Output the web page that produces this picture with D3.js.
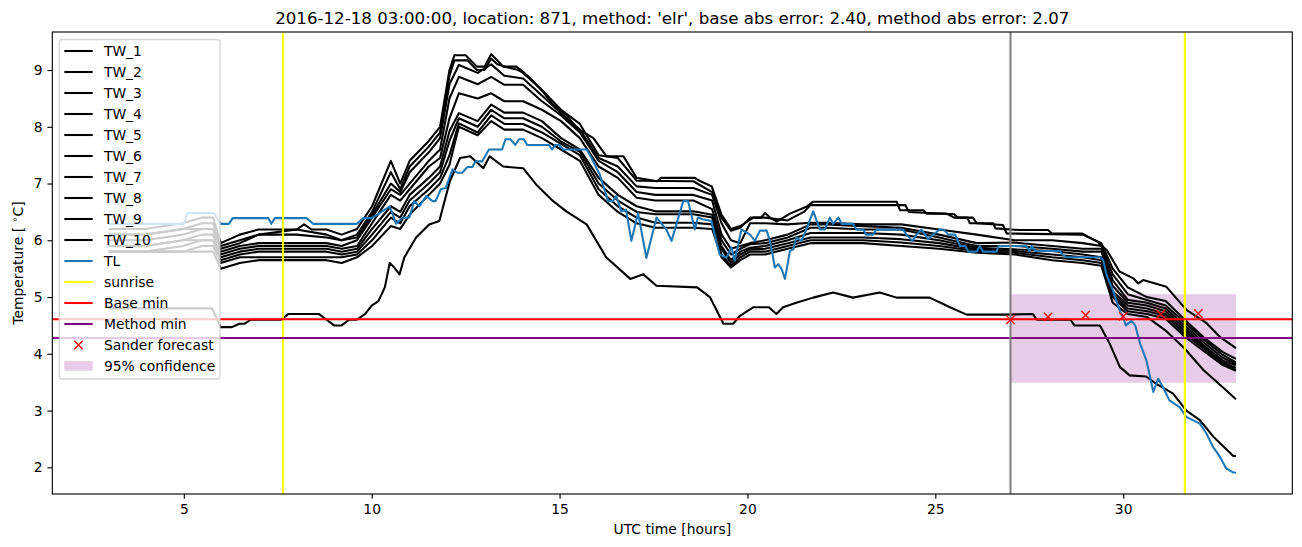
<!DOCTYPE html>
<html>
<head>
<meta charset="utf-8">
<script src="https://cdn.jsdelivr.net/npm/d3@7"></script>
<style>
  body { margin: 0; background: #fff; }
  svg { font-family: "DejaVu Sans", sans-serif; }
</style>
</head>
<body>
<div id="chart"></div>
<script>
// sample times (UTC hours) shared by TW_3 .. TW_9
var hours = [3, 3.97, 4.98, 5.48, 5.78, 5.98, 6.49, 6.99, 8.0, 8.8, 9.2, 9.61, 10.01, 10.51, 10.76, 11.01, 11.52,
  11.82, 12.07, 12.32, 12.82, 13.18, 13.53, 14.03, 14.53, 15.04, 15.54, 16.04, 16.55, 17.05, 17.55, 18.05,
  18.56, 19.06, 19.31, 19.56, 19.81, 20.07, 20.47, 21.07, 21.68, 22.08, 23.08, 24.09, 25.1, 26.1, 27.11,
  28.11, 28.92, 29.42, 29.72, 30.12, 30.63, 31.13, 31.64, 32.14, 32.65, 33]

var tw3 = [6.1, 6.1, 6.2, 6.2, 6.2, 5.85, 5.95, 6.1, 6.1, 6.05, 6.0, 6.05, 6.45, 7.0, 6.85, 7.2, 7.55, 7.8, 8.75,
  9.09, 8.95, 9.1, 8.9, 8.85, 8.55, 8.24, 7.95, 7.45, 7.3, 6.95, 6.92, 6.92, 6.92, 6.8, 6.3, 6.0, 5.95,
  6.3, 6.3, 6.28, 6.31, 6.31, 6.28, 6.28, 6.19, 6.1, 6.0, 6.0, 5.95, 5.9, 5.4, 5.05, 4.95, 4.85, 4.55, 4.25, 3.98, 3.85]
var tw4 = [6.0, 6.0, 6.1, 6.2, 6.2, 5.8, 5.9, 5.95, 5.95, 5.95, 5.9, 6.0, 6.4, 6.9, 6.8, 7.0, 7.4, 7.6, 8.5,
  8.88, 8.75, 8.88, 8.74, 8.74, 8.45, 8.2, 7.9, 7.4, 7.2, 6.85, 6.8, 6.8, 6.8, 6.7, 6.1, 5.85, 5.9,
  5.95, 6.0, 6.1, 6.28, 6.28, 6.25, 6.22, 6.1, 5.95, 5.96, 5.9, 5.85, 5.85, 5.3, 4.95, 4.9, 4.8, 4.5, 4.2, 3.93, 3.82]
var tw5 = [5.9, 5.9, 6.0, 6.1, 6.1, 5.75, 5.85, 5.9, 5.9, 5.9, 5.85, 5.9, 6.3, 6.8, 6.7, 6.9, 7.3, 7.45, 8.15,
  8.59, 8.5, 8.59, 8.45, 8.45, 8.3, 8.1, 7.8, 7.3, 7.1, 6.75, 6.7, 6.7, 6.7, 6.55, 6.0, 5.75, 5.85,
  5.93, 5.95, 6.05, 6.22, 6.22, 6.19, 6.19, 6.05, 5.9, 5.9, 5.85, 5.8, 5.8, 5.2, 4.9, 4.85, 4.75, 4.45, 4.15, 3.88, 3.8]
var tw6 = [5.9, 5.9, 6.0, 6.0, 6.0, 5.7, 5.8, 5.85, 5.85, 5.85, 5.8, 5.85, 6.2, 6.6, 6.5, 6.8, 7.1, 7.3, 7.92,
  8.24, 8.1, 8.39, 8.25, 8.25, 8.1, 7.8, 7.6, 7.1, 6.8, 6.6, 6.51, 6.51, 6.51, 6.45, 5.9, 5.65, 5.8,
  5.87, 5.9, 6.0, 6.13, 6.13, 6.13, 6.1, 6.0, 5.87, 5.84, 5.81, 5.75, 5.7, 5.1, 4.85, 4.8, 4.7, 4.4, 4.12, 3.85, 3.75]
var tw7 = [5.8, 5.8, 5.9, 6.0, 6.0, 5.65, 5.75, 5.8, 5.8, 5.8, 5.75, 5.8, 6.1, 6.5, 6.4, 6.7, 7.0, 7.2, 7.75,
  8.15, 8.0, 8.3, 8.15, 8.15, 8.0, 7.74, 7.56, 7.0, 6.7, 6.5, 6.46, 6.46, 6.46, 6.4, 5.85, 5.6, 5.75,
  5.84, 5.85, 5.95, 6.05, 6.05, 6.05, 6.02, 5.95, 5.84, 5.81, 5.75, 5.7, 5.65, 5.05, 4.8, 4.75, 4.67, 4.35, 4.09, 3.82, 3.71]
var tw8 = [5.8, 5.8, 5.8, 5.9, 5.9, 5.6, 5.7, 5.7, 5.7, 5.7, 5.7, 5.75, 6.0, 6.4, 6.3, 6.6, 6.9, 7.1, 7.5,
  8.06, 7.9, 8.2, 8.05, 8.05, 7.9, 7.7, 7.5, 6.9, 6.6, 6.4, 6.31, 6.31, 6.31, 6.28, 5.75, 5.55, 5.7,
  5.8, 5.8, 5.9, 6.0, 6.0, 6.0, 5.96, 5.9, 5.81, 5.78, 5.7, 5.65, 5.6, 5.0, 4.75, 4.7, 4.62, 4.3, 4.05, 3.8, 3.7]
var tw9 = [5.8, 5.8, 5.8, 5.8, 5.8, 5.5, 5.6, 5.65, 5.65, 5.65, 5.6, 5.7, 5.9, 6.25, 6.2, 6.45, 6.8, 7.0, 7.33,
  8.0, 7.85, 8.1, 7.95, 7.95, 7.8, 7.6, 7.4, 6.8, 6.5, 6.3, 6.22, 6.22, 6.22, 6.2, 5.7, 5.52, 5.65,
  5.75, 5.75, 5.85, 5.95, 5.95, 5.95, 5.9, 5.85, 5.78, 5.75, 5.65, 5.6, 5.55, 4.9, 4.7, 4.65, 4.41, 4.09, 3.71, 3.41, 3.2]

// TW_1, TW_2 and TW_10 read with their own steps: [hour, temp]
var tw1 = [[3, 6.2], [3.97, 6.2], [4.98, 6.3], [5.48, 6.4], [5.78, 6.4], [5.98, 5.95], [6.49, 6.1], [6.99, 6.19],
  [8.0, 6.19], [8.2, 6.28], [8.4, 6.19], [8.8, 6.19], [9.2, 6.1], [9.61, 6.2], [10.01, 6.6], [10.51, 7.4],
  [10.76, 7.0], [11.01, 7.4], [11.52, 7.75], [11.82, 8.0], [12.07, 9.0], [12.2, 9.26], [12.5, 9.26], [12.8, 9.06],
  [13.0, 9.06], [13.18, 9.28], [13.3, 9.2], [13.5, 9.06], [13.85, 9.06], [14.03, 8.97], [14.3, 8.8], [14.55, 8.62],
  [14.83, 8.39], [15.18, 8.21], [15.45, 7.98], [15.9, 7.8], [16.25, 7.48], [16.7, 7.48], [17.05, 7.1], [17.6, 7.04],
  [17.7, 7.1], [18.6, 7.1], [18.75, 7.04], [19.05, 6.95], [19.31, 6.45], [19.56, 6.2], [19.81, 6.25], [20.16, 6.4],
  [20.36, 6.4], [20.47, 6.48], [20.6, 6.4], [20.78, 6.33], [21.13, 6.47], [21.57, 6.59], [21.75, 6.68], [23.97, 6.68],
  [24.06, 6.53], [24.68, 6.53], [24.77, 6.47], [25.3, 6.47], [25.5, 6.4], [25.85, 6.4], [25.92, 6.3], [26.54, 6.3],
  [26.6, 6.21], [27.25, 6.18], [28.0, 6.18], [28.1, 6.12], [28.9, 6.12], [29.3, 5.98], [29.56, 5.83], [29.9, 5.45],
  [30.27, 5.33], [30.4, 5.24], [30.53, 5.3], [31.15, 5.18], [31.69, 4.77], [32.22, 4.54], [32.57, 4.3], [33, 4.1]]
var tw2 = [[3, 6.1], [3.97, 6.1], [4.98, 6.2], [5.48, 6.3], [5.78, 6.3], [5.98, 5.9], [6.49, 6.0], [6.99, 6.1],
  [8.0, 6.19], [8.8, 6.1], [9.2, 6.0], [9.61, 6.1], [10.01, 6.5], [10.51, 7.2], [10.76, 6.9], [11.01, 7.3],
  [11.52, 7.65], [11.82, 7.9], [12.07, 8.9], [12.2, 9.17], [12.55, 9.17], [12.8, 9.0], [13.0, 9.0], [13.18, 9.2],
  [13.35, 9.1], [13.53, 9.06], [13.9, 9.0], [14.03, 8.95], [14.53, 8.65], [15.04, 8.3], [15.54, 8.05], [16.04, 7.5],
  [16.55, 7.45], [17.05, 7.05], [18.56, 7.04], [19.06, 6.85], [19.31, 6.4], [19.56, 6.17], [19.81, 6.22], [20.07, 6.4],
  [20.47, 6.4], [21.07, 6.35], [21.5, 6.5], [21.68, 6.62], [24.2, 6.62], [24.3, 6.5], [25.5, 6.46], [25.6, 6.4],
  [26.0, 6.4], [26.1, 6.3], [26.8, 6.27], [26.9, 6.12], [28.92, 6.1], [29.42, 5.95], [29.72, 5.5], [30.12, 5.17],
  [30.63, 5.0], [31.13, 4.93], [31.64, 4.6], [32.14, 4.29], [32.65, 4.03], [33, 3.91]]
var tw10 = [[3, 4.8], [5.75, 4.8], [5.98, 4.47], [6.28, 4.47], [6.48, 4.53], [6.62, 4.53], [6.78, 4.6], [7.58, 4.6],
  [7.78, 4.7], [8.6, 4.7], [8.8, 4.6], [9.0, 4.5], [9.2, 4.5], [9.4, 4.6], [9.6, 4.6], [9.82, 4.7], [10.0, 4.85],
  [10.18, 4.93], [10.35, 5.17], [10.48, 5.6], [10.6, 5.52], [10.74, 5.4], [10.87, 5.7], [11.18, 6.05], [11.53, 6.28],
  [11.8, 6.34], [12.08, 7.04], [12.35, 7.45], [12.62, 7.48], [12.97, 7.27], [13.14, 7.48], [13.5, 7.3], [14.03, 7.27],
  [14.38, 6.98], [14.83, 6.69], [15.18, 6.51], [15.72, 6.28], [16.24, 5.7], [16.88, 5.32], [17.23, 5.4], [17.58, 5.2],
  [18.66, 5.17], [19.0, 5.0], [19.36, 4.53], [19.62, 4.53], [19.8, 4.67], [20.15, 4.82], [20.57, 4.82], [20.77, 4.7],
  [20.95, 4.82], [21.3, 4.9], [21.75, 4.99], [22.28, 5.08], [22.81, 4.99], [23.52, 5.08], [23.97, 4.99], [24.85, 4.99],
  [25.39, 4.82], [25.83, 4.69], [26.8, 4.69], [27.6, 4.7], [27.7, 4.6], [28.6, 4.6], [28.7, 4.5], [29.38, 4.5],
  [29.64, 4.18], [29.91, 3.77], [30.17, 3.62], [30.61, 3.6], [30.88, 3.47], [31.33, 3.3], [31.68, 3.0], [32.04, 2.83],
  [32.4, 2.54], [32.93, 2.2], [33, 2.2]]

// TL sensor, own time stamps
var tlHours = [3, 5.0, 5.1, 5.8, 5.98, 6.2, 6.3, 7.25, 7.33, 7.42, 8.27, 8.44, 9.6, 9.78, 10.0, 10.21, 10.48,
  10.65, 10.83, 11.0, 11.13, 11.27, 11.45, 11.62, 11.7, 11.84, 11.97, 12.15, 12.28, 12.41, 12.55, 12.68, 12.76,
  12.94, 13.12, 13.47, 13.56, 13.69, 13.82, 13.92, 14.05, 14.14, 14.71, 14.8, 14.89, 14.98, 15.1, 15.72, 15.85,
  16.07, 16.29, 16.42, 16.51, 16.64, 16.77, 16.91, 17.09, 17.31, 17.58, 17.84, 17.98, 18.29, 18.42, 18.6, 18.68,
  18.81, 19.04, 19.26, 19.44, 19.57, 19.66, 19.84, 20.07, 20.2, 20.33, 20.51, 20.6, 20.73, 20.82, 20.91, 21.0,
  21.13, 21.22, 21.3, 21.44, 21.58, 21.75, 21.93, 22.06, 22.19, 22.28, 22.42, 22.51, 22.81, 22.9, 23.08, 23.16,
  23.34, 23.43, 24.14, 24.23, 24.39, 24.5, 24.63, 24.81, 24.94, 25.12, 25.22, 25.35, 25.53, 25.66, 25.8, 25.88,
  26.1, 26.18, 26.27, 26.63, 26.68, 27.25, 27.41, 27.51, 27.56, 27.66, 28.31, 28.39, 28.48, 29.38, 29.47, 29.55,
  29.73, 29.91, 30.0, 30.07, 30.22, 30.32, 30.45, 30.62, 30.8, 30.93, 31.06, 31.23, 31.5, 31.68, 32.04, 32.21,
  32.39, 32.57, 32.74, 32.92, 33]
var tlTemps = [6.29, 6.29, 6.48, 6.48, 6.29, 6.29, 6.39, 6.39, 6.29, 6.39, 6.39, 6.29, 6.29, 6.39, 6.39, 6.48, 6.6,
  6.29, 6.4, 6.4, 6.69, 6.6, 6.78, 6.69, 6.69, 6.9, 6.92, 7.25, 7.19, 7.19, 7.29, 7.29, 7.39,
  7.39, 7.6, 7.6, 7.78, 7.78, 7.68, 7.78, 7.78, 7.68, 7.68, 7.6, 7.68, 7.68, 7.6, 7.6, 7.45,
  7.16, 6.69, 6.69, 6.78, 6.51, 6.54, 5.99, 6.48, 5.69, 6.4, 6.19, 5.99, 6.69, 6.69, 6.19, 6.4,
  6.37, 6.34, 5.75, 5.69, 5.87, 5.64, 6.19, 6.1, 5.99, 6.17, 6.17, 5.99, 5.52, 5.58, 5.49, 5.32,
  5.81, 5.84, 6.05, 5.99, 6.22, 6.51, 6.19, 6.19, 6.4, 6.29, 6.4, 6.29, 6.29, 6.19, 6.19, 6.1,
  6.1, 6.19, 6.19, 6.1, 5.99, 6.1, 6.19, 6.02, 6.1, 6.19, 6.19, 6.1, 6.1, 5.9, 5.9, 5.8,
  5.8, 5.9, 5.8, 5.8, 5.9, 5.9, 5.9, 5.81, 5.9, 5.81, 5.81, 5.75, 5.7, 5.7, 5.65, 5.4,
  5.11, 4.76, 4.64, 4.5, 4.58, 4.5, 4.18, 3.88, 3.33, 3.56, 3.41, 3.18, 3.06, 2.89, 2.77, 2.6,
  2.36, 2.19, 1.98, 1.91, 1.91]

var sunrise = [7.64, 31.64]
var forecastStart = 27
var baseMin = 4.61
var methodMin = 4.28
var sanderHours = [27, 28, 29, 30, 31, 32]
var sanderTemps = [4.6, 4.65, 4.68, 4.66, 4.7, 4.71]
var confidence = {from: 27, to: 33, low: 3.49, high: 5.05}

var xTicks = [5, 10, 15, 20, 25, 30]
var yTicks = [2, 3, 4, 5, 6, 7, 8, 9]

var titleText = "2016-12-18 03:00:00, location: 871, method: 'elr', base abs error: 2.40, method abs error: 2.07"

// build chart
var svgWidth = 1302
var svgHeight = 547

var margin = {top: 32, right: 9.7, bottom: 53, left: 52.3}
var width = svgWidth - margin.left - margin.right
var height = svgHeight - margin.top - margin.bottom

var svg = d3.select("#chart")
  .append("svg")
  .attr("width", svgWidth)
  .attr("height", svgHeight)

var chartGroup = svg.append("g")
  .attr("transform", `translate(${margin.left}, ${margin.top})`)

var xScale = d3.scaleLinear().domain([1.5, 34.5]).range([0, width])
var yScale = d3.scaleLinear().domain([1.53, 9.67]).range([height, 0])

var line = d3.line()
  .x(d => xScale(d[0]))
  .y(d => yScale(d[1]))

// confidence band (drawn first, under the lines)
chartGroup.append("rect")
  .attr("x", xScale(confidence.from))
  .attr("y", yScale(confidence.high))
  .attr("width", xScale(confidence.to) - xScale(confidence.from))
  .attr("height", yScale(confidence.low) - yScale(confidence.high))
  .attr("fill", "purple")
  .attr("fill-opacity", 0.2)

var gridded = [tw3, tw4, tw5, tw6, tw7, tw8, tw9].map(vals => hours.map((h, i) => [h, vals[i]]))
var twSeries = [tw1, tw2].concat(gridded, [tw10])

twSeries.forEach(function(pts) {
  chartGroup.append("path")
    .datum(pts)
    .attr("d", line)
    .attr("fill", "none")
    .attr("stroke", "black")
    .attr("stroke-width", 2.08)
    .attr("stroke-linejoin", "round")
})

chartGroup.append("path")
  .datum(tlHours.map((h, i) => [h, tlTemps[i]]))
  .attr("d", line)
  .attr("fill", "none")
  .attr("stroke", "#1f77b4")
  .attr("stroke-width", 2.08)
  .attr("stroke-linejoin", "round")

sunrise.forEach(function(h) {
  chartGroup.append("line")
    .attr("x1", xScale(h)).attr("x2", xScale(h))
    .attr("y1", 0).attr("y2", height)
    .attr("stroke", "yellow")
    .attr("stroke-width", 2.08)
})

function hLine(val, color) {
  chartGroup.append("line")
    .attr("x1", 0).attr("x2", width)
    .attr("y1", yScale(val)).attr("y2", yScale(val))
    .attr("stroke", color)
    .attr("stroke-width", 2.08)
}
hLine(baseMin, "red")
hLine(methodMin, "purple")

chartGroup.append("line")
  .attr("x1", xScale(forecastStart)).attr("x2", xScale(forecastStart))
  .attr("y1", 0).attr("y2", height)
  .attr("stroke", "gray")
  .attr("stroke-width", 2.08)

// x markers
function cross(g, cx, cy) {
  var s = 4.17
  g.append("path")
    .attr("d", `M${cx - s},${cy - s}L${cx + s},${cy + s}M${cx - s},${cy + s}L${cx + s},${cy - s}`)
    .attr("stroke", "red")
    .attr("stroke-width", 1.39)
    .attr("fill", "none")
}
sanderHours.forEach(function(h, i) {
  cross(chartGroup, xScale(h), yScale(sanderTemps[i]))
})

// axes
var bottomAxis = d3.axisBottom(xScale).tickValues(xTicks).tickSize(4.86).tickPadding(4.86).tickSizeOuter(0)
var leftAxis = d3.axisLeft(yScale).tickValues(yTicks).tickSize(4.86).tickPadding(4.86).tickSizeOuter(0)

var xAxis = chartGroup.append("g")
  .attr("transform", `translate(0, ${height})`)
  .call(bottomAxis)
var yAxis = chartGroup.append("g")
  .call(leftAxis)

;[xAxis, yAxis].forEach(function(ax) {
  ax.select(".domain").remove()
  ax.selectAll("line").attr("stroke", "black").attr("stroke-width", 1.11)
  ax.selectAll("text")
    .attr("fill", "black")
    .style("font-family", "DejaVu Sans")
    .style("font-size", "13.9px")
})

chartGroup.append("rect")
  .attr("x", 0).attr("y", 0)
  .attr("width", width).attr("height", height)
  .attr("fill", "none")
  .attr("stroke", "black")
  .attr("stroke-width", 1.11)

// labels
svg.append("text")
  .attr("x", margin.left + width / 2)
  .attr("y", 23.7)
  .attr("text-anchor", "middle")
  .style("font-size", "16.67px")
  .text(titleText)

svg.append("text")
  .attr("x", margin.left + width / 2)
  .attr("y", 534)
  .attr("text-anchor", "middle")
  .style("font-size", "13.9px")
  .text("UTC time [hours]")

var yLabel = svg.append("text")
  .attr("transform", `translate(23, ${margin.top + height / 2}) rotate(-90)`)
  .attr("text-anchor", "middle")
  .style("font-size", "13.9px")
yLabel.append("tspan").text("Temperature [ ")
yLabel.append("tspan").attr("dy", -5).style("font-size", "9.7px").text("\u2218")
yLabel.append("tspan").attr("dy", 5).text("C]")

// legend
var legendItems = []
for (var i = 1; i <= 10; i++) legendItems.push({label: "TW_" + i, type: "line", color: "black"})
legendItems.push({label: "TL", type: "line", color: "#1f77b4"})
legendItems.push({label: "sunrise", type: "line", color: "yellow"})
legendItems.push({label: "Base min", type: "line", color: "red"})
legendItems.push({label: "Method min", type: "line", color: "purple"})
legendItems.push({label: "Sander forecast", type: "cross", color: "red"})
legendItems.push({label: "95% confidence", type: "patch", color: "purple"})

var legend = svg.append("g").attr("transform", "translate(59.3, 39.5)")
legend.append("rect")
  .attr("x", 0).attr("y", 0)
  .attr("width", 160.7).attr("height", 339.5)
  .attr("rx", 2.8)
  .attr("fill", "white")
  .attr("fill-opacity", 0.8)
  .attr("stroke", "#cccccc")
  .attr("stroke-opacity", 0.8)
  .attr("stroke-width", 1.39)

legendItems.forEach(function(item, i) {
  var cy = 11.5 + i * 21
  if (item.type === "line") {
    legend.append("line")
      .attr("x1", 5).attr("x2", 33.4)
      .attr("y1", cy).attr("y2", cy)
      .attr("stroke", item.color)
      .attr("stroke-width", 2.08)
  } else if (item.type === "cross") {
    cross(legend, 19.2, cy)
  } else {
    legend.append("rect")
      .attr("x", 5).attr("y", cy - 4.9)
      .attr("width", 28.4).attr("height", 9.7)
      .attr("fill", item.color)
      .attr("fill-opacity", 0.2)
  }
  legend.append("text")
    .attr("x", 44.6)
    .attr("y", cy + 5)
    .style("font-size", "13.9px")
    .text(item.label)
})
</script>
</body>
</html>
